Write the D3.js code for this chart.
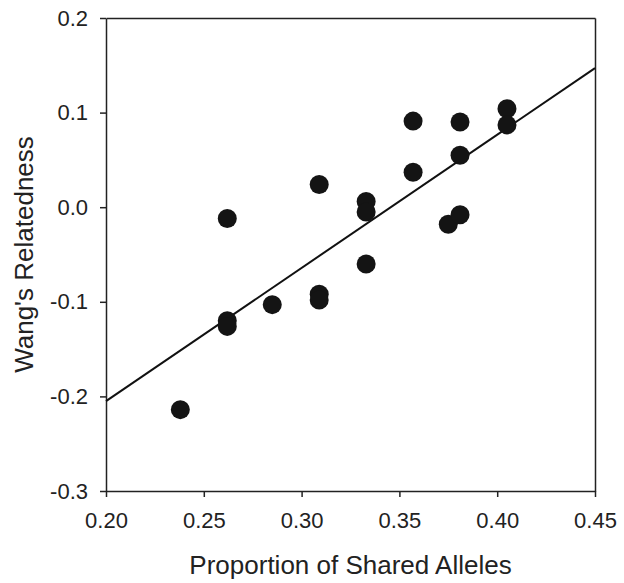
<!DOCTYPE html>
<html>
<head>
<meta charset="utf-8">
<script src="https://cdn.jsdelivr.net/npm/d3@7"></script>
<style>
	body { margin: 0; background: #fff; }
	.axis text { font-family: "Liberation Sans", Arial, sans-serif; font-size: 22px; fill: #222; }
	.axis path, .axis line { stroke: #222; stroke-width: 1.5px; }
	.title { font-family: "Liberation Sans", Arial, sans-serif; font-size: 26px; fill: #222; }
</style>
</head>
<body>
<div id="chart"></div>
<script>
// shared allele proportion vs Wang's relatedness
const sharedAlleles = [0.238, 0.262, 0.262, 0.262, 0.285, 0.309, 0.309, 0.309, 0.333, 0.333,
	0.333, 0.357, 0.357, 0.375, 0.381, 0.381, 0.381, 0.405, 0.405];
const relatedness = [-0.214, -0.012, -0.120, -0.126, -0.103, 0.024, -0.092, -0.098, 0.006, -0.005,
	-0.060, 0.091, 0.037, -0.018, 0.090, 0.055, -0.008, 0.104, 0.087];

// fitted regression line ends
const fitX = [0.20, 0.45];
const fitY = [-0.205, 0.147];

const xTicks = [0.20, 0.25, 0.30, 0.35, 0.40, 0.45];
const yTicks = [-0.3, -0.2, -0.1, 0.0, 0.1, 0.2];

const width = 624;
const height = 583;

const svg = d3.select('#chart').append('svg')
	.attr('width', width)
	.attr('height', height);

const xScale = d3.scaleLinear().domain([0.20, 0.45]).range([106, 595]);
const yScale = d3.scaleLinear().domain([-0.3, 0.2]).range([491, 18]);

// plain hyphen instead of d3's unicode minus
const fmt = (p) => (d) => d.toFixed(p);

// frame top / right
svg.append('g')
	.attr('class', 'axis')
	.attr('transform', 'translate(0,' + yScale(0.2) + ')')
	.call(d3.axisTop(xScale).tickValues([]).tickSizeOuter(0));
svg.append('g')
	.attr('class', 'axis')
	.attr('transform', 'translate(' + xScale(0.45) + ',0)')
	.call(d3.axisRight(yScale).tickValues([]).tickSizeOuter(0));

svg.append('g')
	.attr('class', 'axis')
	.attr('transform', 'translate(0,' + yScale(-0.3) + ')')
	.call(d3.axisBottom(xScale).tickValues(xTicks).tickFormat(fmt(2))
		.tickSize(6).tickSizeOuter(0).tickPadding(15));

svg.append('g')
	.attr('class', 'axis')
	.attr('transform', 'translate(' + xScale(0.20) + ',0)')
	.call(d3.axisLeft(yScale).tickValues(yTicks).tickFormat(fmt(1))
		.tickSize(6).tickSizeOuter(0).tickPadding(12));

// regression line
const line = d3.line()
	.x((d, i) => xScale(fitX[i]))
	.y(d => yScale(d));
svg.append('path')
	.datum(fitY)
	.attr('d', line)
	.attr('fill', 'none')
	.attr('stroke', '#111')
	.attr('stroke-width', 2);

svg.selectAll('.dot')
	.data(sharedAlleles)
	.enter().append('circle')
	.attr('class', 'dot')
	.attr('cx', d => xScale(d))
	.attr('cy', (d, i) => yScale(relatedness[i]))
	.attr('r', 9.5)
	.attr('fill', '#141414');

svg.append('text')
	.attr('class', 'title')
	.attr('x', (xScale(0.20) + xScale(0.45)) / 2)
	.attr('y', 574)
	.attr('text-anchor', 'middle')
	.text('Proportion of Shared Alleles');

svg.append('text')
	.attr('class', 'title')
	.attr('transform', 'translate(33,' + (yScale(-0.3) + yScale(0.2)) / 2 + ') rotate(-90)')
	.attr('text-anchor', 'middle')
	.text("Wang's Relatedness");
</script>
</body>
</html>
